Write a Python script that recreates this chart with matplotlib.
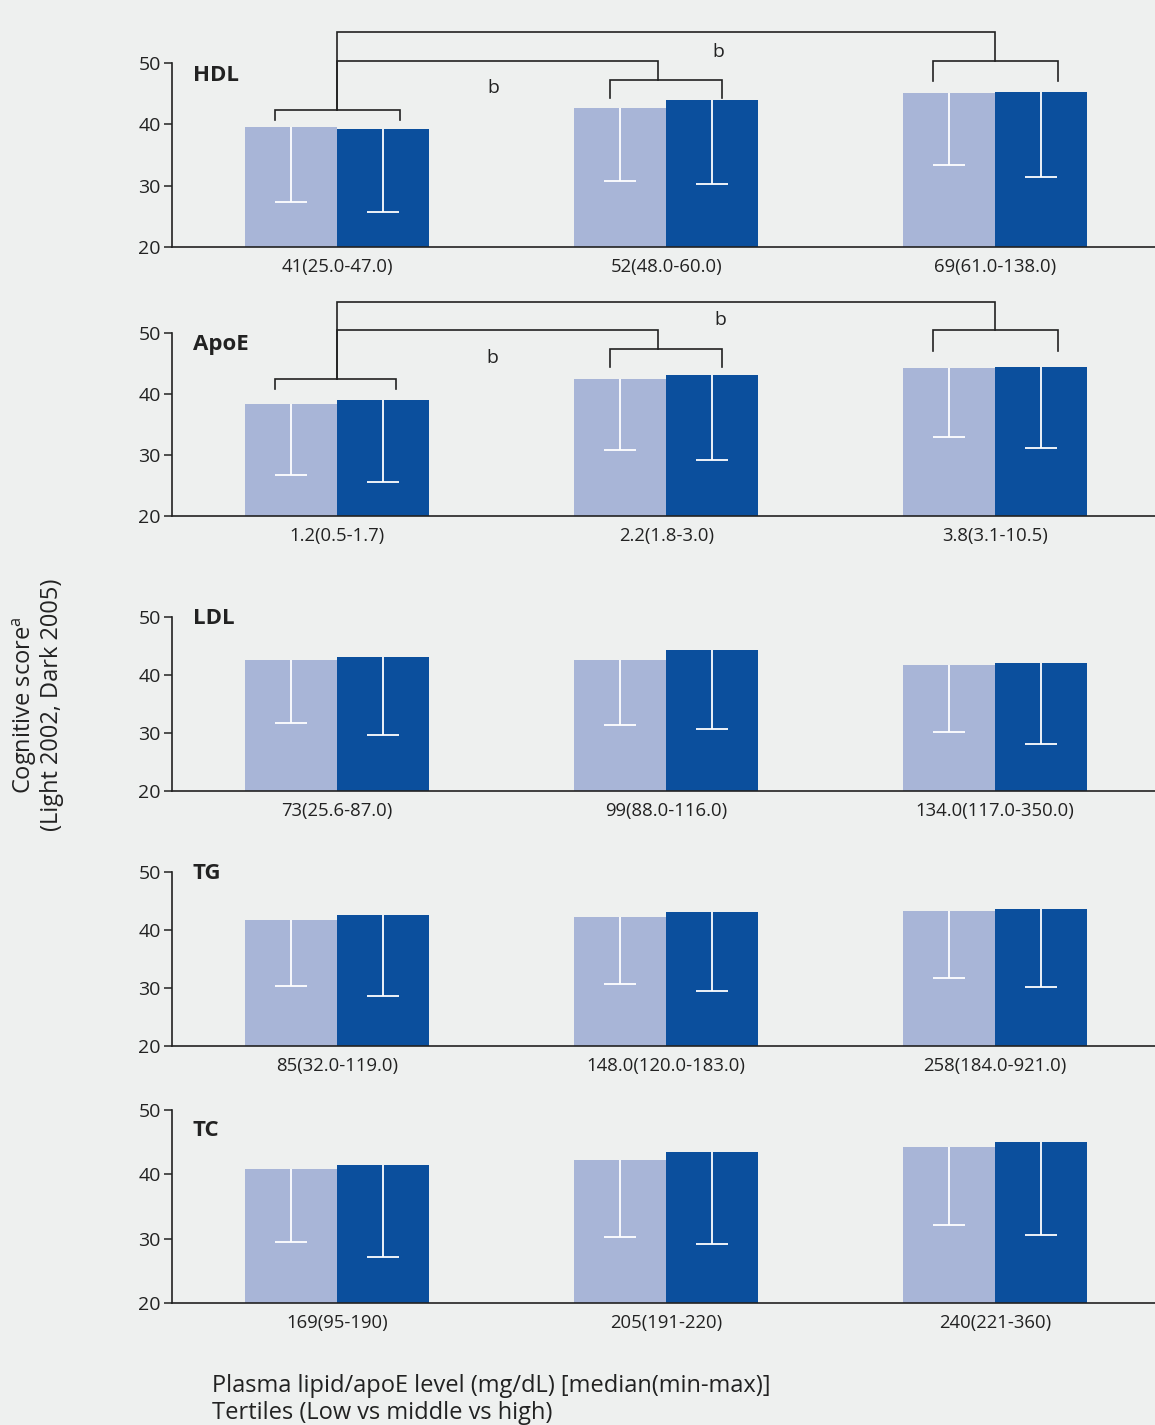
import matplotlib
matplotlib.use("Agg")
import matplotlib.pyplot as plt
import numpy as np

plt.rcParams['font.family'] = ['Open Sans', 'DejaVu Sans']

# ---------------- data ----------------
panels = ["HDL", "ApoE", "LDL", "TG", "TC"]
tertile_labels = {
    "HDL": ["41(25.0-47.0)", "52(48.0-60.0)", "69(61.0-138.0)"],
    "ApoE": ["1.2(0.5-1.7)", "2.2(1.8-3.0)", "3.8(3.1-10.5)"],
    "LDL": ["73(25.6-87.0)", "99(88.0-116.0)", "134.0(117.0-350.0)"],
    "TG": ["85(32.0-119.0)", "148.0(120.0-183.0)", "258(184.0-921.0)"],
    "TC": ["169(95-190)", "205(191-220)", "240(221-360)"],
}
# mean scores (Light = 2002, Dark = 2005)
score_2002 = {
    "HDL": [39.6, 42.6, 45.1],
    "ApoE": [38.3, 42.5, 44.3],
    "LDL": [42.6, 42.6, 41.8],
    "TG": [41.7, 42.2, 43.3],
    "TC": [40.9, 42.2, 44.2],
}
score_2005 = {
    "HDL": [39.2, 43.9, 45.3],
    "ApoE": [39.0, 43.1, 44.4],
    "LDL": [43.1, 44.3, 42.1],
    "TG": [42.6, 43.1, 43.6],
    "TC": [41.4, 43.4, 45.0],
}
# lower end of the error bars
lower_2002 = {
    "HDL": [27.3, 30.8, 33.4],
    "ApoE": [26.7, 30.8, 33.0],
    "LDL": [31.8, 31.4, 30.2],
    "TG": [30.4, 30.7, 31.8],
    "TC": [29.5, 30.3, 32.2],
}
lower_2005 = {
    "HDL": [25.7, 30.2, 31.4],
    "ApoE": [25.5, 29.2, 31.1],
    "LDL": [29.7, 30.7, 28.1],
    "TG": [28.7, 29.4, 30.1],
    "TC": [27.2, 29.2, 30.6],
}
y_ticks = [20, 30, 40, 50]

# significance brackets: (x1, x2, top, leg1_bottom, leg2_bottom)
brackets = {
    "HDL": [(-0.19, 0.19, 42.3, 40.7, 40.7),
            (0.83, 1.17, 47.2, 44.3, 44.3),
            (1.81, 2.19, 50.3, 47.1, 47.1),
            (0.0, 0.975, 50.4, 42.3, 47.2),
            (0.0, 2.0, 55.0, 42.3, 50.3)],
    "ApoE": [(-0.19, 0.18, 42.5, 40.8, 40.8),
             (0.83, 1.17, 47.4, 44.4, 44.4),
             (1.81, 2.19, 50.5, 47.0, 47.0),
             (0.0, 0.975, 50.5, 42.5, 47.4),
             (0.0, 2.0, 55.1, 42.5, 50.5)],
}
sig_labels = {
    "HDL": [(0.474, 45.9, "b"), (1.16, 51.8, "b")],
    "ApoE": [(0.471, 45.9, "b"), (1.164, 52.1, "b")],
}

# ---------------- layout ----------------
W, H = 1155, 1425
fig = plt.figure(figsize=(W / 100, H / 100), dpi=100)
bg = "#eef0ef"
fig.patch.set_facecolor(bg)

# (top_px, bottom_px) of each panel's 20..50 range
panel_px = {"HDL": (63, 247), "ApoE": (333, 516), "LDL": (617, 791),
            "TG": (872, 1046), "TC": (1110, 1303)}
title_y = {"HDL": 0.933, "ApoE": 0.937, "LDL": 0.99, "TG": 0.99, "TC": 0.892}
left_px = 172

light = "#a8b5d7"
dark = "#0b4f9d"
bw = 0.28
capw = 0.049
x = np.arange(3)

for name in panels:
    top, bot = panel_px[name]
    ax = fig.add_axes([left_px / W, 1 - bot / H, (W - left_px) / W, (bot - top) / H])
    ax.set_facecolor(bg)
    ax.patch.set_alpha(0)
    s1 = np.array(score_2002[name]); s2 = np.array(score_2005[name])
    l1 = np.array(lower_2002[name]); l2 = np.array(lower_2005[name])
    ax.bar(x - bw / 2, s1 - 20, bottom=20, width=bw, color=light, zorder=2)
    ax.bar(x + bw / 2, s2 - 20, bottom=20, width=bw, color=dark, zorder=2)
    for xs, s, l in ((x - bw / 2, s1, l1), (x + bw / 2, s2, l2)):
        ax.vlines(xs, l, s, color="white", lw=1.3, zorder=3)
        ax.hlines(l, xs - capw, xs + capw, color="white", lw=1.3, zorder=3)

    ax.set_xlim(-0.502, 2.486)
    ax.set_ylim(20, 50)
    ax.set_yticks(y_ticks)
    ax.set_yticklabels([str(t) for t in y_ticks], fontsize=14, color="#222222")
    ax.set_xticks(x)
    ax.set_xticklabels(tertile_labels[name], fontsize=13.3, color="#222222")
    ax.tick_params(axis="x", length=0, pad=8)
    ax.tick_params(axis="y", length=6, width=1.1, color="#222222", pad=2)
    for sp in ("top", "right"):
        ax.spines[sp].set_visible(False)
    for sp in ("left", "bottom"):
        ax.spines[sp].set_linewidth(1.2)
        ax.spines[sp].set_color("#222222")
    ax.text(0.021, title_y[name], name, transform=ax.transAxes, fontsize=16,
            fontweight="bold", ha="left", va="center", color="#222222")

    for (x1, x2, yt, yl1, yl2) in brackets.get(name, []):
        ax.plot([x1, x1, x2, x2], [yl1, yt, yt, yl2], color="#222222", lw=1.2,
                clip_on=False, zorder=4, solid_joinstyle="miter")
    for (xt, yt, t) in sig_labels.get(name, []):
        ax.text(xt, yt, t, fontsize=14, ha="center", va="center",
                color="#222222", clip_on=False)

fig.text(37 / W, 1 - 705 / H, "Cognitive score$^{\\mathregular{a}}$\n(Light 2002, Dark 2005)",
         rotation=90, ha="center", va="center", fontsize=17, color="#222222",
         multialignment="center", linespacing=1.1)
fig.text(212 / W, 1 - 1386 / H, "Plasma lipid/apoE level (mg/dL) [median(min-max)]",
         ha="left", va="center", fontsize=17, color="#222222")
fig.text(212 / W, 1 - 1413 / H, "Tertiles (Low vs middle vs high)",
         ha="left", va="center", fontsize=17, color="#222222")

fig.savefig("out.png", dpi=100, facecolor=fig.get_facecolor())
